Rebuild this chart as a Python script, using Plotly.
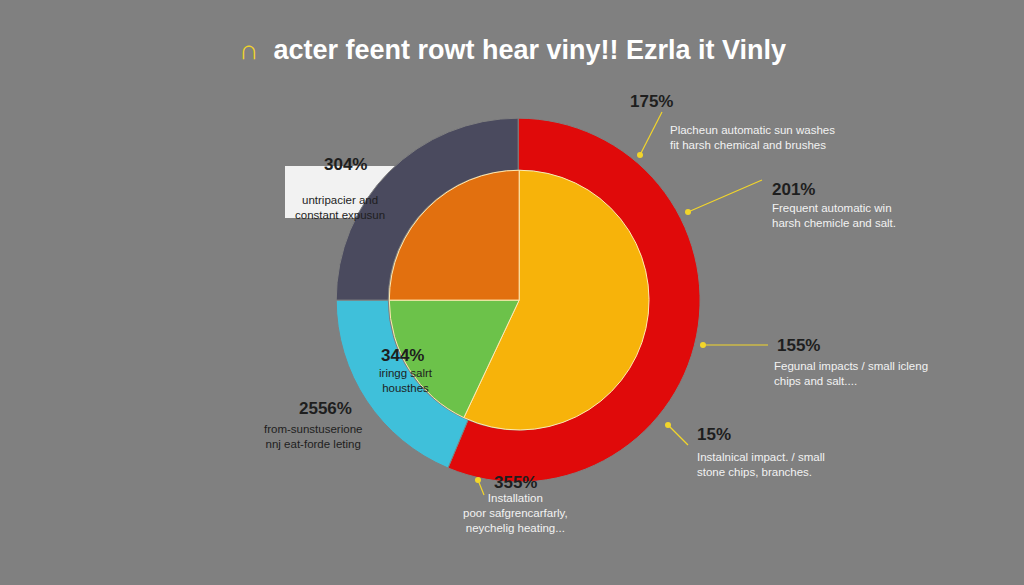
import plotly.graph_objects as go

outer_labels = ["Red", "Cyan", "Slate"]
outer_values = [56.3, 18.7, 25.0]
outer_colors = ["#E00A0A", "#3FC0DA", "#4A4A5E"]

inner_labels = ["Yellow", "Green", "Orange"]
inner_values = [57.0, 18.0, 25.0]
inner_colors = ["#F7B30A", "#6CC24A", "#E2700F"]

pct_labels = ["175%", "201%", "155%", "15%", "355%", "2556%", "344%", "304%"]
desc_labels = [
    "Placheun automatic sun washes<br>fit harsh chemical and brushes",
    "Frequent automatic win<br>harsh chemicle and salt.",
    "Fegunal impacts / small icleng<br>chips and salt....",
    "Instalnical impact. / small<br>stone chips, branches.",
    "Installation<br>poor safgrencarfarly,<br>neychelig heating...",
    "from-sunstuserione<br>nnj eat-forde leting",
    "iringg salrt<br>housthes",
    "untripacier and<br>constant expusun",
]

fig = go.Figure()
fig.add_trace(go.Pie(labels=outer_labels, values=outer_values, sort=False, direction="clockwise",
                     rotation=0, hole=0.714, marker=dict(colors=outer_colors, line=dict(color="#808080", width=1)),
                     textinfo="none", hoverinfo="skip", showlegend=False,
                     domain=dict(x=[0.328, 0.684], y=[0.176, 0.798])))
fig.add_trace(go.Pie(labels=inner_labels, values=inner_values, sort=False, direction="clockwise",
                     rotation=0, marker=dict(colors=inner_colors, line=dict(color="#FFE9B0", width=1)),
                     textinfo="none", hoverinfo="skip", showlegend=False,
                     domain=dict(x=[0.379, 0.635], y=[0.265, 0.709])))

pos = [(628, 90, 668, 122, "left", "#F2F2F2"), (770, 178, 770, 215, "left", "#F2F2F2"),
       (775, 345, 772, 374, "left", "#F2F2F2"), (695, 446, 695, 480, "left", "#F2F2F2"),
       (515, 494, 515, 536, "center", "#F2F2F2"), (325, 420, 313, 452, "center", "#1E1E1E"),
       (402, 355, 406, 396, "center", "#1E1E1E"), (345, 153, 340, 192, "center", "#1E1E1E")]
W, H = 1024, 585
for (px, py, dx, dy, anc, col), p, d in zip(pos, pct_labels, desc_labels):
    fig.add_annotation(x=px / W, y=1 - py / H, xref="paper", yref="paper", text="<b>" + p + "</b>",
                       xanchor=anc, showarrow=False, font=dict(size=17, color="#1E1E1E", family="Liberation Sans"))
    fig.add_annotation(x=dx / W, y=1 - dy / H, xref="paper", yref="paper", text=d, align=anc, xanchor=anc,
                       showarrow=False, font=dict(size=11.5, color=col, family="Liberation Sans"))

fig.add_shape(type="rect", xref="paper", yref="paper", x0=285 / W, x1=408 / W, y0=1 - 218 / H, y1=1 - 166 / H,
              fillcolor="#F2F2F2", line=dict(width=0), layer="below")

conns = [(640, 155, 662, 112), (688, 212, 762, 180), (703, 345, 768, 345), (668, 425, 688, 445), (478, 480, 484, 495)]
for x0, y0, x1, y1 in conns:
    fig.add_shape(type="line", xref="paper", yref="paper", x0=x0 / W, y0=1 - y0 / H, x1=x1 / W, y1=1 - y1 / H,
                  line=dict(color="#F2D52A", width=1.2))
    fig.add_shape(type="circle", xref="paper", yref="paper", x0=(x0 - 3) / W, x1=(x0 + 3) / W,
                  y0=1 - (y0 + 3) / H, y1=1 - (y0 - 3) / H, fillcolor="#F2D52A", line=dict(width=0))

fig.add_annotation(x=0.5, y=1 - 33 / H, xref="paper", yref="paper",
                   text="<span style='color:#F2D52A'>∩</span>  <b>acter feent rowt hear viny!! Ezrla it Vinly</b>",
                   showarrow=False, font=dict(size=27, color="#FFFFFF", family="Liberation Sans"))

fig.update_layout(width=1024, height=585, margin=dict(l=0, r=0, t=0, b=0),
                  paper_bgcolor="#808080", plot_bgcolor="#808080")
fig.write_html("out.html", config={"displayModeBar": False},
               post_script="document.body.style.margin='0';document.body.style.background='#808080';document.body.style.overflow='hidden';")
